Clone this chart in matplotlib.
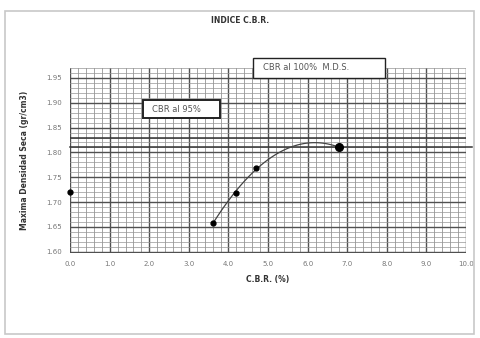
import numpy as np
import matplotlib.pyplot as plt
from matplotlib.patches import Rectangle

# ensayo CBR: densidad seca vs CBR
cbr = [3.6, 4.2, 4.7, 6.8]
densidad = [1.658, 1.719, 1.769, 1.810]
punto_origen = (0.0, 1.72)
dens_95 = 1.83
dens_100 = 1.81

x_ticks = [0.0, 1.0, 2.0, 3.0, 4.0, 5.0, 6.0, 7.0, 8.0, 9.0, 10.0]
y_ticks = [1.60, 1.65, 1.70, 1.75, 1.80, 1.85, 1.90, 1.95]

fig = plt.figure(figsize=(4.8, 3.38), dpi=100)
ax = fig.add_axes([0.146, 0.252, 0.825, 0.547])

# papel milimetrado
for xv in np.arange(0, 10.01, 0.2):
    major = abs(xv - round(xv)) < 1e-6
    ax.axvline(xv, color='#505050' if major else '#8c8c8c',
               lw=1.0 if major else 0.55, zorder=1)
for yv in np.arange(1.60, 1.971, 0.01):
    major = abs(yv * 20 - round(yv * 20)) < 1e-6
    ax.axhline(yv, color='#505050' if major else '#959595',
               lw=1.0 if major else 0.5, zorder=1)

# lineas de referencia
ax.axhline(dens_95, color='#333333', lw=1.1, zorder=2)
ax.plot([0, 10.15], [dens_100, dens_100], color='#333333', lw=1.1,
        zorder=2, clip_on=False)

# curva de ajuste
coef = np.polyfit(cbr, densidad, 2)
xs = np.linspace(cbr[0], cbr[-1], 100)
ax.plot(xs, np.polyval(coef, xs), color='#444444', lw=0.9, zorder=3)
ax.plot(cbr[:3], densidad[:3], 'o', color='black', ms=3.5, zorder=4)
ax.plot(cbr[3], densidad[3], 'o', color='black', ms=5.5, zorder=4)
ax.plot(*punto_origen, 'o', color='black', ms=3.5, zorder=4, clip_on=False)

ax.set_xlim(0, 10)
ax.set_ylim(1.598, 1.97)
ax.set_xticks(x_ticks)
ax.set_xticklabels([f'{v:.1f}' for v in x_ticks])
ax.set_yticks(y_ticks)
ax.set_yticklabels([f'{v:.2f}' for v in y_ticks])
ax.tick_params(labelsize=5, colors='#777777', length=0, pad=6)
for s in ax.spines.values():
    s.set_visible(False)

ax.set_xlabel('C.B.R. (%)', fontsize=5.5, fontweight='bold', color='#333333', labelpad=6)
ax.set_ylabel('Maxima Densidad Seca (gr/cm3)', fontsize=5.5, fontweight='bold',
              color='#333333', labelpad=12)
fig.text(0.5, 0.94, 'INDICE C.B.R.', ha='center', va='center', fontsize=5.5,
         fontweight='bold', color='#333333')

# cuadros de texto (en pixeles de la figura)
W, H = 480, 338
def cuadro(x0, y0, x1, y1, texto, lw, tx=None):
    fig.patches.append(Rectangle((x0 / W, 1 - y1 / H), (x1 - x0) / W, (y1 - y0) / H,
                                 transform=fig.transFigure, fc='white',
                                 ec='#222222', lw=lw, zorder=5))
    xt = (x0 + 10) / W if tx is None else tx
    fig.text(xt, 1 - (y0 + y1) / 2 / H, texto, ha='left', va='center',
             fontsize=6, color='#555555', zorder=6)

cuadro(253, 58, 385, 78, 'CBR al 100%  M.D.S.', 1.0)
cuadro(143, 100, 220, 118, 'CBR al 95%', 1.4, tx=152 / W)

# marco exterior
fig.patches.append(Rectangle((0.01, 0.012), 0.978, 0.955, transform=fig.transFigure,
                             fill=False, ec='#c8c8c8', lw=1.2))

fig.savefig('out.png', dpi=100)
